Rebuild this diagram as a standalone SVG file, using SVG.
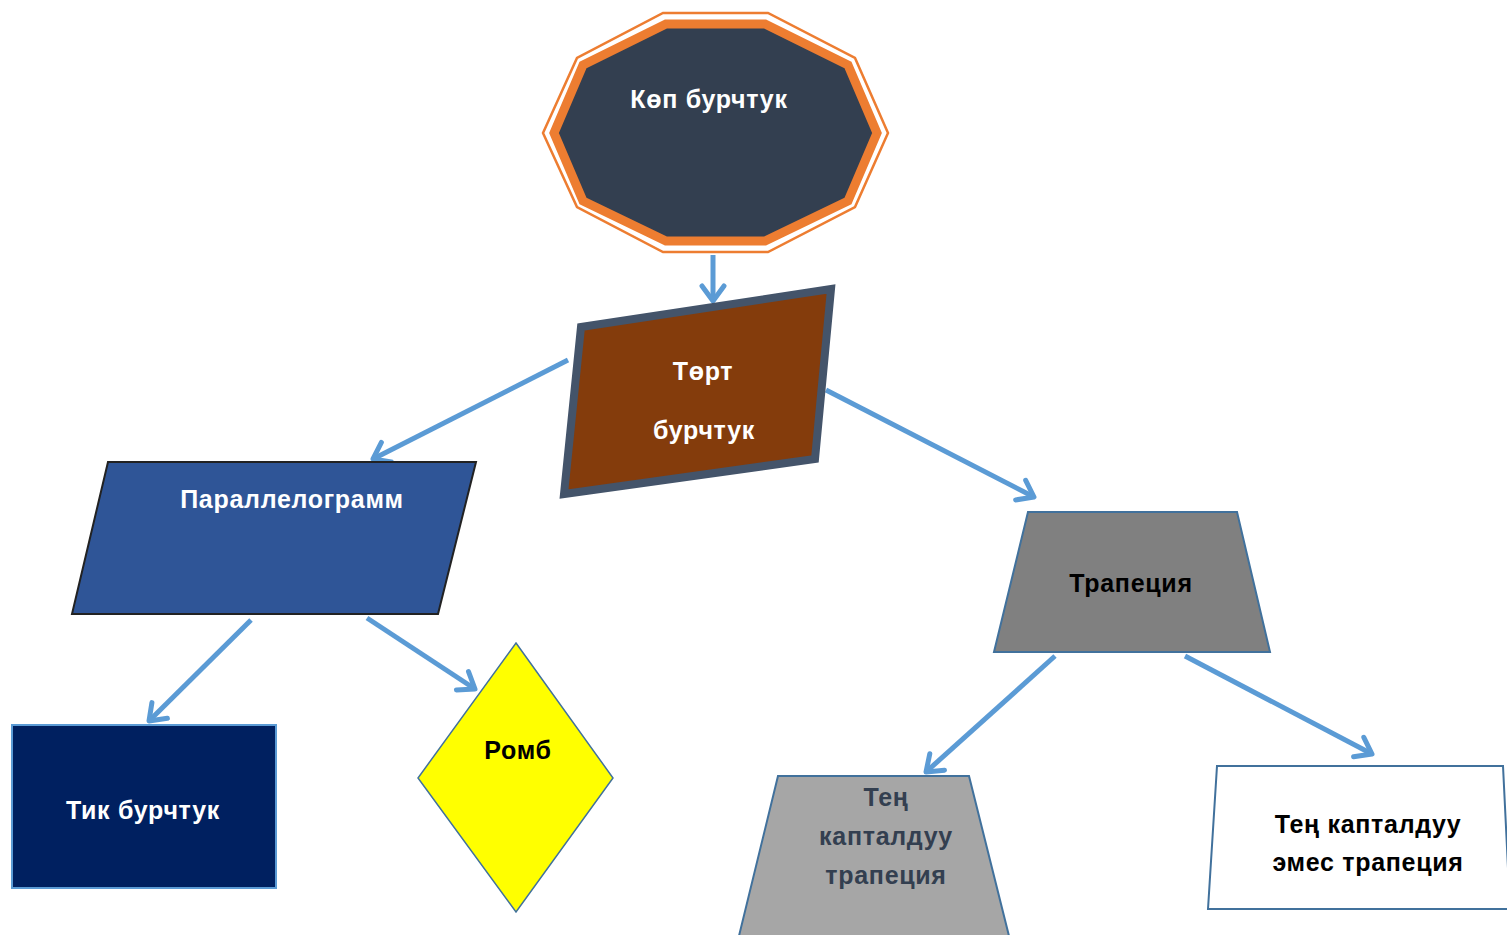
<svg xmlns="http://www.w3.org/2000/svg" width="1507" height="935" viewBox="0 0 1507 935">
<style>
.t{font-family:"Liberation Sans",Arial,sans-serif;font-weight:bold;font-size:25px;letter-spacing:0.7px;text-anchor:middle}
.w{fill:#FFFFFF}
.k{fill:#000000}
.d{fill:#333F50}
.c{fill:none;stroke:#5B9BD5;stroke-width:5;marker-end:url(#ah)}
</style>
<defs>
<marker id="ah" markerUnits="userSpaceOnUse" viewBox="-22 -14 26 28" markerWidth="26" markerHeight="28" refX="0" refY="0" orient="auto">
<path d="M-15,-11 L0,0 L-15,11" fill="none" stroke="#5B9BD5" stroke-width="5" stroke-linecap="round" stroke-linejoin="round"/>
</marker>
</defs>
<rect width="1507" height="935" fill="#FFFFFF"/>
<g id="connectors">
<line class="c" x1="713" y1="255" x2="713" y2="301"/>
<line class="c" x1="568" y1="360" x2="373" y2="459"/>
<line class="c" x1="826" y1="390" x2="1034" y2="497"/>
<line class="c" x1="251" y1="620" x2="149" y2="721"/>
<line class="c" x1="367" y1="618" x2="475" y2="689"/>
<line class="c" x1="1055" y1="656" x2="926" y2="772"/>
<line class="c" x1="1185" y1="656" x2="1372" y2="754"/>
</g>
<g id="node-kop-burchtuk">
<polygon points="663,13 768,13 855,58 888,133 855,207 768,252 663,252 577,207 543,133 577,58" fill="#FFFFFF" stroke="#ED7D31" stroke-width="2.5"/>
<polygon points="666,24 765,24 848,65 877,133 848,201 765,241 666,241 583,201 554,133 583,65" fill="#333F50" stroke="#ED7D31" stroke-width="9" stroke-linejoin="miter"/>
<text class="t w" x="709" y="108">Көп бурчтук</text>
</g>
<g id="node-tort-burchtuk">
<polygon points="581,327 831,289 815,459 564,494" fill="#843C0C" stroke="#44546A" stroke-width="8"/>
<text class="t w" x="703" y="380">Төрт</text>
<text class="t w" x="704" y="439">бурчтук</text>
</g>
<g id="node-parallelogramm">
<polygon points="108,462 476,462 438,614 72,614" fill="#2F5597" stroke="#222222" stroke-width="2"/>
<text class="t w" x="292" y="508">Параллелограмм</text>
</g>
<g id="node-tik-burchtuk">
<rect x="12" y="725" width="264" height="163" fill="#002060" stroke="#5B9BD5" stroke-width="2"/>
<text class="t w" x="143" y="819">Тик бурчтук</text>
</g>
<g id="node-romb">
<polygon points="516,643 613,778 516,912 418,778" fill="#FFFF00" stroke="#41719C" stroke-width="1.5"/>
<text class="t k" x="518" y="759">Ромб</text>
</g>
<g id="node-trapeciya">
<polygon points="1028,512 1237,512 1270,652 994,652" fill="#808080" stroke="#41719C" stroke-width="2"/>
<text class="t k" x="1131" y="592">Трапеция</text>
</g>
<g id="node-ten-kaptalduu">
<polygon points="778,776 969,776 1010,940 738,940" fill="#A6A6A6" stroke="#41719C" stroke-width="2"/>
<text class="t d" x="886" y="806">Тең</text>
<text class="t d" x="886" y="845">капталдуу</text>
<text class="t d" x="886" y="884">трапеция</text>
</g>
<g id="node-ten-kaptalduu-emes">
<polygon points="1217,766 1503,766 1510,909 1208,909" fill="#FFFFFF" stroke="#41719C" stroke-width="2"/>
<text class="t k" x="1368" y="833">Тең капталдуу</text>
<text class="t k" x="1368" y="871">эмес трапеция</text>
</g>
</svg>
